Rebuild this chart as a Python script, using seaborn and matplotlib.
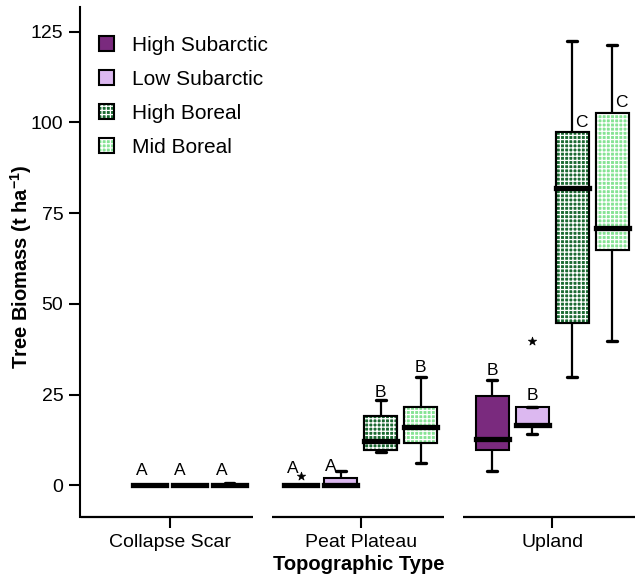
import numpy as np
import pandas as pd
import seaborn as sns
import matplotlib.pyplot as plt
from matplotlib.patches import Patch, PathPatch
from matplotlib.legend_handler import HandlerTuple
from matplotlib.colors import to_rgba

sns.set_theme(style="ticks")
plt.rcParams['font.family'] = ['Liberation Sans', 'DejaVu Sans']
plt.rcParams['hatch.linewidth'] = 0.9
plt.rcParams['mathtext.fontset'] = 'custom'
plt.rcParams['mathtext.rm'] = 'Liberation Sans'
plt.rcParams['mathtext.bf'] = 'Liberation Sans:bold'
plt.rcParams['text.color'] = 'black'
plt.rcParams['axes.labelcolor'] = 'black'

# ---------------- data ----------------
topo_types = ["Collapse Scar", "Peat Plateau", "Upland"]
regions = ["High Subarctic", "Low Subarctic", "High Boreal", "Mid Boreal"]
region_colors = ["#7a2a7e", "#dcb8f0", "#1b6a32", "#86e394"]
hatched_regions = ["High Boreal", "Mid Boreal"]

box_topo = ["Collapse Scar", "Collapse Scar", "Collapse Scar",
            "Peat Plateau", "Peat Plateau", "Peat Plateau", "Peat Plateau",
            "Upland", "Upland", "Upland", "Upland"]
box_region = ["Low Subarctic", "High Boreal", "Mid Boreal",
              "High Subarctic", "Low Subarctic", "High Boreal", "Mid Boreal",
              "High Subarctic", "Low Subarctic", "High Boreal", "Mid Boreal"]
whisker_low = [0, 0, 0, 0, 0, 9.3, 6.3, 4.0, 14.2, 30.0, 39.9]
quart1 = [0, 0, 0, 0, 0, 9.8, 11.6, 9.8, 16.4, 44.8, 64.9]
median = [0, 0, 0, 0, 0, 12.1, 16.0, 12.8, 16.7, 82.0, 70.9]
quart3 = [0, 0, 0, 0, 2.1, 19.0, 21.5, 24.7, 21.6, 97.5, 102.7]
whisker_high = [0, 0, 0.8, 0, 4.0, 23.4, 30.0, 29.1, 21.6, 122.3, 121.2]
letters = ["A", "A", "A", "A", "A", "B", "B", "B", "B", "C", "C"]

outlier_topo = ["Peat Plateau", "Upland"]
outlier_region = ["High Subarctic", "Low Subarctic"]
outlier_value = [2.7, 39.9]

# letter layout: anchor ('whi' = whisker top, 'q3' = box top), offsets in px
letter_anchor = ["q3", "q3", "q3", "q3", "whi", "whi", "whi", "whi", "whi", "q3", "q3"]
letter_dx = [-8, -10, -8, -8, -10, 0, 0, 0, 0, 9, 9.5]
letter_dy = [10, 10, 10, 12, 0, 3, 5, 5, 7, 5, 6]

# ---------------- long table ----------------
rows = []
for t, r, a, b, c, d, e in zip(box_topo, box_region, whisker_low, quart1,
                               median, quart3, whisker_high):
    for v in (a, b, c, d, e):
        rows.append({"Topography": t, "Region": r, "Biomass": v})
df = pd.DataFrame(rows)

palette = dict(zip(regions, region_colors))

W, H, DPI = 637, 575, 100
fig = plt.figure(figsize=(W / DPI, H / DPI), dpi=DPI)
ax = fig.add_axes([80 / W, 1 - 517 / H, 557 / W, 510 / H])

group_width = 0.836
sns.boxplot(data=df, x="Topography", y="Biomass", hue="Region",
            order=topo_types, hue_order=regions, palette=palette,
            width=group_width, gap=0.175, whis=(0, 100), saturation=1,
            linecolor="black", linewidth=1.5, fliersize=0, legend=False,
            medianprops={"linewidth": 3.8, "solid_capstyle": "projecting",
                         "color": "black"},
            whiskerprops={"linewidth": 1.6},
            capprops={"linewidth": 2.4},
            ax=ax)

# narrow caps (Prism style)
box_w = group_width / len(regions) * (1 - 0.175)
for ln in ax.lines:
    xd = np.asarray(ln.get_xdata(), dtype=float)
    yd = np.asarray(ln.get_ydata(), dtype=float)
    if len(xd) == 2 and yd[0] == yd[1] and abs(abs(xd[1] - xd[0]) - 0.5 * box_w) < 1e-6:
        cx = xd.mean()
        half = 0.15 * box_w
        ln.set_xdata([cx - half, cx + half])

# checkered hatch for boreal regions
hatch_cols = [to_rgba(palette[r]) for r in hatched_regions]
for p in list(ax.patches):
    fc = p.get_facecolor()
    if any(np.allclose(fc, hc, atol=1e-3) for hc in hatch_cols):
        z = p.get_zorder()
        ov = PathPatch(p.get_path(), transform=p.get_transform(), facecolor="none",
                       edgecolor="white", linewidth=0, hatch="++++", zorder=z + 0.01)
        ax.add_patch(ov)
        ed = PathPatch(p.get_path(), transform=p.get_transform(), facecolor="none",
                       edgecolor="black", linewidth=1.5, zorder=z + 0.02)
        ax.add_patch(ed)


def box_x(topo, region):
    slot = group_width / len(regions)
    return topo_types.index(topo) + (regions.index(region) - (len(regions) - 1) / 2) * slot


# outliers
ox = [box_x(t, r) for t, r in zip(outlier_topo, outlier_region)]
ax.scatter(ox, outlier_value, marker="*", s=40, color="black", zorder=5,
           linewidths=0.5)

# significance letters
for i, lab in enumerate(letters):
    x = box_x(box_topo[i], box_region[i])
    y = quart3[i] if letter_anchor[i] == "q3" else whisker_high[i]
    ax.annotate(lab, xy=(x, y), xytext=(letter_dx[i] * 0.72, letter_dy[i] * 0.72),
                textcoords="offset points", ha="center", va="baseline",
                fontsize=12.5, color="black")

# axes styling
ax.set_ylim(-8.7, 131.8)
ax.set_xlim(-0.468, 2.444)
ax.set_yticks([0, 25, 50, 75, 100, 125])
ax.tick_params(axis="both", direction="out", length=8, width=1.5,
               labelsize=14, pad=4, color="black", labelcolor="black")
for s in ["top", "right", "bottom"]:
    ax.spines[s].set_visible(False)
ax.spines["left"].set_linewidth(1.5)
ax.spines["left"].set_color("black")
for i in range(len(topo_types)):
    ax.plot([i - 0.465, i + 0.435], [0, 0], transform=ax.get_xaxis_transform(),
            color="black", lw=1.6, clip_on=False, solid_capstyle="butt")

ax.set_xlabel("Topographic Type", fontsize=14.5, fontweight="bold", labelpad=3,
              color="black")
ax.set_ylabel("Tree Biomass (t ha$^{\\mathbf{-1}}$)", fontsize=14.5,
              fontweight="bold", color="black")
ax.yaxis.set_label_coords(-(80 - 34) / 557, 0.49)

# legend
handles = []
for r in regions:
    if r in hatched_regions:
        handles.append((Patch(facecolor=palette[r], edgecolor="none"),
                        Patch(facecolor="none", edgecolor="white", linewidth=0, hatch="++++"),
                        Patch(facecolor="none", edgecolor="black", linewidth=1.5)))
    else:
        handles.append(Patch(facecolor=palette[r], edgecolor="black", linewidth=1.5))
leg = ax.legend(handles, regions, handler_map={tuple: HandlerTuple(ndivide=1, pad=0)},
                loc="upper left", bbox_to_anchor=(0.0, 0.98), frameon=False,
                fontsize=15, handlelength=0.75, handleheight=0.75, handletextpad=0.85,
                labelspacing=0.72, labelcolor="black")

fig.savefig("out.png", dpi=DPI)
